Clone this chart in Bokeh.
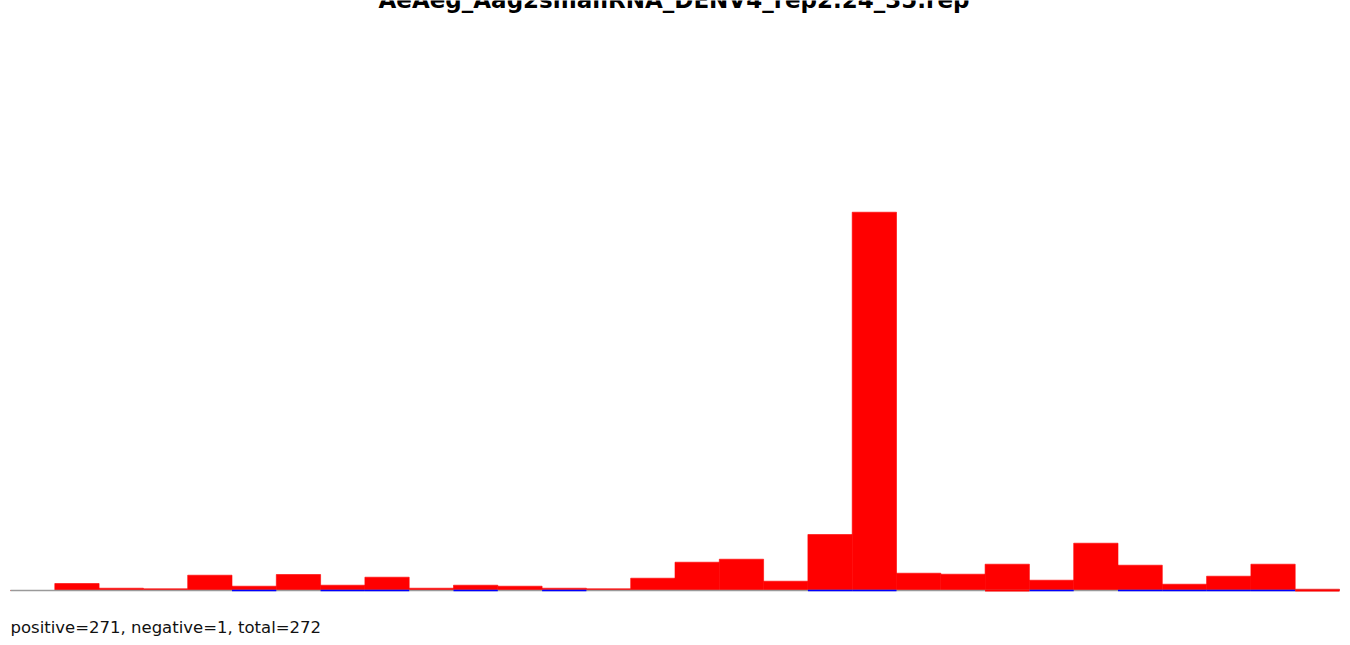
from bokeh.plotting import figure
from bokeh.models import Range1d, Label, ColumnDataSource
from bokeh.embed import file_html
from bokeh.resources import INLINE

title_text = "AeAeg_Aag2smallRNA_DENV4_rep2.24_35.rep"
footer_text = "positive=271, negative=1, total=272"

# 30 bins along the sequence
bins = list(range(30))
positive = [0, 7, 2.3, 1.7, 15.3, 4.3, 16, 5.3, 13.3, 2.3,
            5.3, 4.3, 2.3, 1.7, 12.3, 28.3, 31.3, 9.3, 56, 378.3,
            17.3, 16.3, 26.3, 10.3, 47.3, 25.3, 6.3, 14.3, 26.3, 1.3]
negative = [0, 0, 0, 0, 0, 0, 0, 0, 0, 0,
            0, 0, 0, 0, 0, 0, 0, 0, 0, 0,
            0, 0, 1, 0, 0, 0, 0, 0, 0, 1]
strand_mark = [0, 0, 0, 0, 0, 1, 0, 1, 1, 0,
               1, 0, 1, 0, 0, 0, 0, 0, 1, 1,
               0, 0, 0, 1, 0, 1, 1, 1, 1, 0]

W, H = 1350, 645
bin_px = 44.3
x0_px = 10
base_px = 590

p = figure(width=W, height=H, output_backend="svg", toolbar_location=None,
           x_range=Range1d(-x0_px / bin_px, (W - x0_px) / bin_px),
           y_range=Range1d(base_px - H, base_px),
           x_axis_location=None, y_axis_location=None,
           min_border=0, min_border_left=0, min_border_right=0,
           min_border_top=0, min_border_bottom=0)
p.grid.visible = False
p.outline_line_color = None
p.background_fill_color = "white"
p.border_fill_color = "white"

src = ColumnDataSource(dict(
    x=[b + 0.5 for b in bins],
    pos=positive,
))
p.vbar(x="x", width=1, bottom=0, top="pos", source=src,
       fill_color="#ff0000", line_color="#ff0000", line_width=0.6)

# baseline
p.segment(x0=[0], y0=[0], x1=[len(bins)], y1=[0], line_color="#9a9a9a", line_width=1.4)

mark_left = [b for b, m in zip(bins, strand_mark) if m]
mark_right = [b + 1 for b, m in zip(bins, strand_mark) if m]
p.segment(x0=mark_left, y0=[0] * len(mark_left), x1=mark_right, y1=[0] * len(mark_left),
          line_color="#0000ff", line_width=1.4)

neg_src = ColumnDataSource(dict(
    x=[b + 0.5 for b, v in zip(bins, negative) if v],
    neg=[-v for v in negative if v],
))
p.vbar(x="x", width=1, bottom=0.7, top="neg", source=neg_src,
       fill_color="#ff0000", line_color=None)

p.add_layout(Label(x=673.5, y=H + 1, x_units="screen", y_units="screen",
                   text=title_text, text_font="DejaVu Sans", text_font_style="bold",
                   text_font_size="23px", text_align="center", text_baseline="alphabetic",
                   text_color="black"))
p.add_layout(Label(x=10, y=H - 627, x_units="screen", y_units="screen",
                   text=footer_text, text_font="DejaVu Sans", text_font_style="normal",
                   text_font_size="16.5px", text_align="left", text_baseline="alphabetic",
                   text_color="#111111"))

open("out.html", "w").write(file_html(p, INLINE))
